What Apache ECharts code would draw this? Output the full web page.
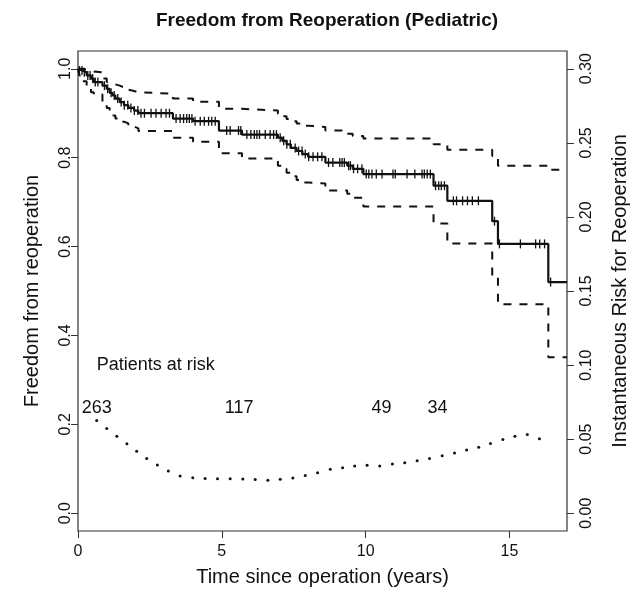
<!DOCTYPE html>
<html lang="en">
<head>
<meta charset="UTF-8">
<title>Freedom from Reoperation (Pediatric)</title>
<script src="https://cdn.jsdelivr.net/npm/echarts@6/dist/echarts.min.js"></script>
<style>
    html, body { margin: 0; padding: 0; background: #fff; }
</style>
</head>
<body>
<div id="main" style="width:638px;height:592px"></div>
<script>
// Kaplan-Meier steps: value starts at the given time and holds until the next one
var stepTimes = [0, 0.05, 0.15, 0.3, 0.45, 0.55, 0.85, 1.0, 1.1, 1.2, 1.3, 1.45, 1.6, 1.75, 1.95, 2.1,
    3.3, 4.0, 4.9, 5.7, 6.95, 7.1, 7.25, 7.4, 7.6, 7.8, 8.0, 8.6, 9.36, 9.55, 9.92,
    12.36, 12.84, 14.40, 14.60, 16.35];
var survival = [1.0, 0.996, 0.992, 0.985, 0.978, 0.970, 0.962, 0.955, 0.946, 0.940, 0.933, 0.925, 0.918, 0.912, 0.906, 0.900,
    0.888, 0.882, 0.861, 0.852, 0.845, 0.838, 0.830, 0.822, 0.815, 0.808, 0.802, 0.789, 0.782, 0.775, 0.763,
    0.737, 0.703, 0.657, 0.606, 0.520];
var upperCI = [1.0, 1.0, 0.998, 0.996, 0.994, 0.992, 0.978, 0.970, 0.968, 0.965, 0.962, 0.958, 0.953, 0.950, 0.947, 0.944,
    0.933, 0.926, 0.910, 0.906, 0.899, 0.893, 0.887, 0.882, 0.877, 0.872, 0.869, 0.861, 0.854, 0.849, 0.843,
    0.830, 0.818, 0.804, 0.782, 0.773];
var lowerCI = [1.0, 0.985, 0.972, 0.958, 0.947, 0.942, 0.922, 0.912, 0.900, 0.895, 0.888, 0.881, 0.877, 0.870, 0.866, 0.860,
    0.845, 0.836, 0.810, 0.798, 0.782, 0.775, 0.766, 0.758, 0.750, 0.744, 0.742, 0.726, 0.719, 0.710, 0.690,
    0.652, 0.607, 0.530, 0.470, 0.351];

// censored observations (+ marks on the curve)
var censorTimes = [0.05, 0.14, 0.22, 0.34, 0.42, 0.51, 0.6, 0.69, 0.92, 1.03, 1.15, 1.26, 1.38, 1.50, 1.61, 1.73,
    1.84, 1.96, 2.08, 2.19, 2.31, 2.54, 2.71, 2.89, 3.06, 3.18, 3.41, 3.55, 3.67, 3.78, 3.87, 3.96,
    4.07, 4.25, 4.39, 4.54, 4.65, 4.77, 5.17, 5.29, 5.58, 5.66, 5.87, 6.01, 6.13, 6.22, 6.31, 6.51,
    6.68, 6.80, 6.90, 7.03, 7.15, 7.26, 7.38, 7.55, 7.67, 7.79, 7.90, 8.02, 8.17, 8.33, 8.48, 8.71,
    8.86, 9.10, 9.18, 9.26, 9.41, 9.47, 9.58, 9.72, 9.87, 10.02, 10.11, 10.22, 10.37, 10.57, 10.95,
    11.03, 11.44, 11.71, 11.96, 12.04, 12.14, 12.25, 12.43, 12.54, 12.63, 12.74, 13.05, 13.16, 13.37,
    13.54, 13.71, 13.92, 14.48, 14.65, 15.38, 15.91, 16.05, 16.22, 16.43];

// instantaneous risk (right axis)
var hazardTimes = [0.65, 1.0, 1.35, 1.70, 2.04, 2.39, 2.76, 3.14, 3.55, 3.99, 4.42, 4.85, 5.29, 5.73, 6.16,
    6.60, 7.03, 7.47, 7.90, 8.33, 8.77, 9.20, 9.62, 10.05, 10.49, 10.93, 11.36, 11.79, 12.22, 12.66,
    13.09, 13.51, 13.93, 14.34, 14.77, 15.19, 15.62, 16.04];
var hazardValues = [0.0626, 0.0572, 0.0520, 0.0469, 0.0419, 0.0370, 0.0325, 0.0285, 0.0251, 0.0240, 0.0235,
    0.0233, 0.0233, 0.0231, 0.0227, 0.0222, 0.0229, 0.0237, 0.0254, 0.0274, 0.0296, 0.0307, 0.0318,
    0.0323, 0.0318, 0.0332, 0.0341, 0.0354, 0.0370, 0.0388, 0.0406, 0.0426, 0.0446, 0.0471, 0.0498,
    0.0520, 0.0531, 0.0502];

var riskTimes = [0.65, 5.6, 10.55, 12.5];
var riskCounts = [263, 117, 49, 34];
var riskRow = 0.236;
var riskHeader = 'Patients at risk';
var riskHeaderRow = 0.333;

var xTicks = [0, 5, 10, 15];
var leftTicks = [0, 0.2, 0.4, 0.6, 0.8, 1.0];
var rightTicks = [0, 0.05, 0.10, 0.15, 0.20, 0.25, 0.30];
var xMax = 17;

var font = 'Liberation Sans, Arial, Helvetica, sans-serif';
var ink = '#111';

function steps(values) {
    var d = stepTimes.map(function (t, i) { return [t, values[i]]; });
    d.push([xMax, values[values.length - 1]]);
    return d;
}
function survAt(t) {
    var s = survival[0];
    for (var i = 0; i < stepTimes.length; i++) {
        if (stepTimes[i] <= t) s = survival[i];
    }
    return s;
}

var myChart = echarts.init(document.getElementById('main'));

var option = {
    backgroundColor: '#fff',
    animation: false,
    title: {
        text: 'Freedom from Reoperation (Pediatric)',
        left: 322, top: 6, textAlign: 'center',
        textStyle: { fontFamily: font, fontSize: 19, fontWeight: 'bold', color: ink }
    },
    grid: {
        left: 78, right: 71, top: 51, bottom: 60,
        show: true, borderColor: '#333', borderWidth: 1.2
    },
    xAxis: {
        type: 'value', min: 0, max: xMax,
        name: 'Time since operation (years)', nameLocation: 'middle', nameGap: 36,
        nameTextStyle: { fontFamily: font, fontSize: 20, color: ink },
        axisLine: { show: false, onZero: false },
        axisTick: { show: true, customValues: xTicks, length: 7, lineStyle: { color: '#333' } },
        axisLabel: { customValues: xTicks, margin: 13, fontFamily: font, fontSize: 16, color: ink },
        splitLine: { show: false }
    },
    yAxis: [{
        type: 'value', min: -0.04, max: 1.04, position: 'left',
        name: 'Freedom from reoperation', nameLocation: 'middle', nameRotate: 90, nameGap: 36,
        nameTextStyle: { fontFamily: font, fontSize: 20, color: ink },
        axisLine: { show: false, onZero: false },
        axisTick: { show: true, customValues: leftTicks, length: 7, lineStyle: { color: '#333' } },
        axisLabel: {
            customValues: leftTicks, rotate: 90, margin: 4,
            fontFamily: font, fontSize: 16, color: ink,
            formatter: function (v) { return v.toFixed(1); }
        },
        splitLine: { show: false }
    }, {
        type: 'value', min: -0.012, max: 0.312, position: 'right',
        name: 'Instantaneous Risk for Reoperation', nameLocation: 'middle', nameRotate: 90, nameGap: 43,
        nameTextStyle: { fontFamily: font, fontSize: 20, color: ink },
        axisLine: { show: false, onZero: false },
        axisTick: { show: true, customValues: rightTicks, length: 7, lineStyle: { color: '#333' } },
        axisLabel: {
            customValues: rightTicks, rotate: 90, margin: 12,
            fontFamily: font, fontSize: 16, color: ink,
            formatter: function (v) { return v.toFixed(2); }
        },
        splitLine: { show: false }
    }],
    series: [
        {
            name: 'Upper', type: 'line', step: 'end', showSymbol: false, symbol: 'none',
            data: steps(upperCI),
            lineStyle: { color: ink, width: 2, type: [8, 8] }
        },
        {
            name: 'Lower', type: 'line', step: 'end', showSymbol: false, symbol: 'none',
            data: steps(lowerCI),
            lineStyle: { color: ink, width: 2, type: [8, 8] }
        },
        {
            name: 'Freedom', type: 'line', step: 'end', showSymbol: false, symbol: 'none',
            data: steps(survival), z: 3,
            lineStyle: { color: ink, width: 2.2 }
        },
        {
            name: 'Censored', type: 'scatter', symbol: 'rect', symbolSize: [1.3, 9], z: 4,
            itemStyle: { color: ink, opacity: 1 },
            data: censorTimes.map(function (t) { return [t, survAt(t)]; })
        },
        {
            name: 'Risk', type: 'scatter', yAxisIndex: 1, symbolSize: 3,
            itemStyle: { color: ink, opacity: 1 },
            data: hazardTimes.map(function (t, i) { return [t, hazardValues[i]]; })
        },
        {
            name: 'At risk', type: 'scatter', symbolSize: 0, silent: true,
            itemStyle: { opacity: 1 },
            label: {
                show: true, position: 'inside', fontFamily: font, fontSize: 18, color: ink,
                formatter: function (p) { return String(p.data[2]); }
            },
            data: riskTimes.map(function (t, i) { return [t, riskRow, riskCounts[i]]; })
        },
        {
            name: 'At risk header', type: 'scatter', symbolSize: 0, silent: true,
            itemStyle: { opacity: 1 },
            label: {
                show: true, position: 'right', distance: 0, fontFamily: font, fontSize: 18, color: ink,
                formatter: riskHeader
            },
            data: [[riskTimes[0], riskHeaderRow]]
        }
    ]
};

myChart.setOption(option);
</script>
</body>
</html>
